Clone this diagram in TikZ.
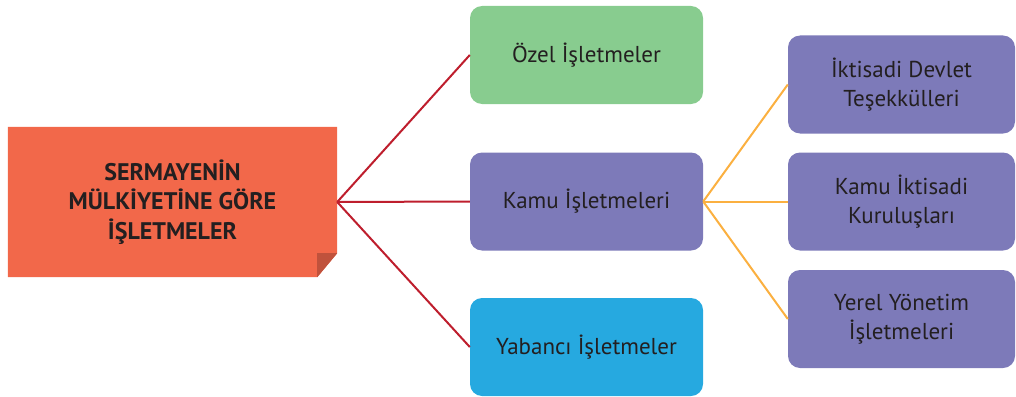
\documentclass[tikz,border=0pt]{standalone}
\usepackage{fontspec}
\setmainfont{PT Sans}
\definecolor{mainred}{RGB}{242,104,74}
\definecolor{folddark}{RGB}{192,82,60}
\definecolor{ozelgreen}{RGB}{136,204,143}
\definecolor{kamupurple}{RGB}{125,122,185}
\definecolor{yabanciblue}{RGB}{38,169,224}
\definecolor{linered}{RGB}{190,30,45}
\definecolor{lineorange}{RGB}{251,176,64}
\definecolor{textgray}{RGB}{35,31,32}

\begin{document}
\begin{tikzpicture}[x=1pt,y=-1pt,
  box/.style={rounded corners=12pt, minimum width=233pt, minimum height=98pt, inner sep=0pt,
    align=center, text=textgray, font=\fontsize{23}{28.5}\selectfont},
  redline/.style={draw=linered, line width=2pt},
  orangeline/.style={draw=lineorange, line width=2pt}]
  \useasboundingbox (0,0) rectangle (1016,396);
  % main box with folded corner
  \node[minimum width=329pt, minimum height=150pt, inner sep=0pt] (main) at (172.5,202) {};
  \fill[mainred] (main.north west) -- (main.north east) -- ([yshift=24pt]main.south east)
    -- ([xshift=-20pt]main.south east) -- (main.south west) -- cycle;
  \fill[folddark] ([xshift=-20pt,yshift=24pt]main.south east) -- ([yshift=24pt]main.south east)
    -- ([xshift=-20pt]main.south east) -- cycle; % the fold
  \node[align=center, text=textgray, font=\bfseries\fontsize{24}{29.5}\selectfont] at (main)
    {SERMAYENİN\\MÜLKİYETİNE GÖRE\\İŞLETMELER};
  % second level
  \node[box, fill=ozelgreen] (ozel) at (586.5,55) {Özel İşletmeler};
  \node[box, fill=kamupurple] (kamu) at (586.5,201.5) {Kamu İşletmeleri};
  \node[box, fill=yabanciblue] (yabanci) at (586.5,347) {Yabancı İşletmeler};
  % third level
  \node[box, minimum width=227pt, fill=kamupurple] (idt) at (901.5,84.5) {İktisadi Devlet\\Teşekkülleri};
  \node[box, minimum width=227pt, fill=kamupurple] (kik) at (901.5,201.5) {Kamu İktisadi\\Kuruluşları};
  \node[box, minimum width=227pt, fill=kamupurple] (yyi) at (901.5,319) {Yerel Yönetim\\İşletmeleri};
  % connectors
  \draw[redline] (main.east) -- (ozel.west);
  \draw[redline] (main.east) -- (kamu.west);
  \draw[redline] (main.east) -- (yabanci.west);
  \draw[orangeline] (kamu.east) -- (idt.west);
  \draw[orangeline] (kamu.east) -- (kik.west);
  \draw[orangeline] (kamu.east) -- (yyi.west);
\end{tikzpicture}
\end{document}
